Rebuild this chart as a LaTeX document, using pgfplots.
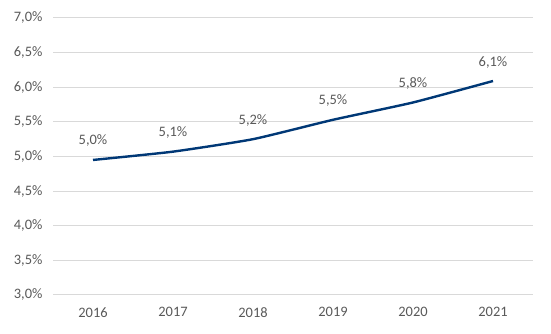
\documentclass[border=0pt]{standalone}
\usepackage{pgfplots}
\pgfplotsset{compat=1.18}
\usepackage{fontspec}
\setmainfont{Carlito}
\definecolor{linecol}{RGB}{0,56,118}
\definecolor{gridcol}{RGB}{217,217,217}
\definecolor{textcol}{RGB}{89,89,89}
\begin{document}
\begin{tikzpicture}
\begin{axis}[
  scale only axis,
  width=480bp, height=277bp,
  xmin=2015.5, xmax=2021.5,
  ymin=3.0, ymax=7.0,
  axis line style={draw=none},
  xtick={2016,2017,2018,2019,2020,2021},
  xticklabels={2016,2017,2018,2019,2020,2021},
  ytick={3.0,3.5,4.0,4.5,5.0,5.5,6.0,6.5,7.0},
  yticklabels={{3,0\%},{3,5\%},{4,0\%},{4,5\%},{5,0\%},{5,5\%},{6,0\%},{6,5\%},{7,0\%}},
  major tick length=0pt,
  ymajorgrids,
  grid style={draw=gridcol, line width=1bp},
  tick label style={font=\fontsize{14.5}{16}\selectfont, text=textcol},
  yticklabel style={xshift=-7bp},
  xticklabel style={yshift=-9bp},
  /pgf/number format/assume math mode=true,
  clip=false,
]
\addplot[color=linecol, line width=2.4bp, smooth, tension=0.3,
  nodes near coords, point meta=explicit symbolic,
  every node near coord/.style={font=\fontsize{14.5}{16}\selectfont, text=textcol, anchor=base, yshift=15bp}]
  table[meta=lab] {
x y lab
2016 4.95 {5,0\%}
2017 5.07 {5,1\%}
2018 5.25 {5,2\%}
2019 5.53 {5,5\%}
2020 5.78 {5,8\%}
2021 6.09 {6,1\%}
};
\end{axis}
\path[use as bounding box] ([shift={(-53bp,-39bp)}]current axis.south west) rectangle ([shift={(18bp,18bp)}]current axis.north east);
\end{tikzpicture}
\end{document}
